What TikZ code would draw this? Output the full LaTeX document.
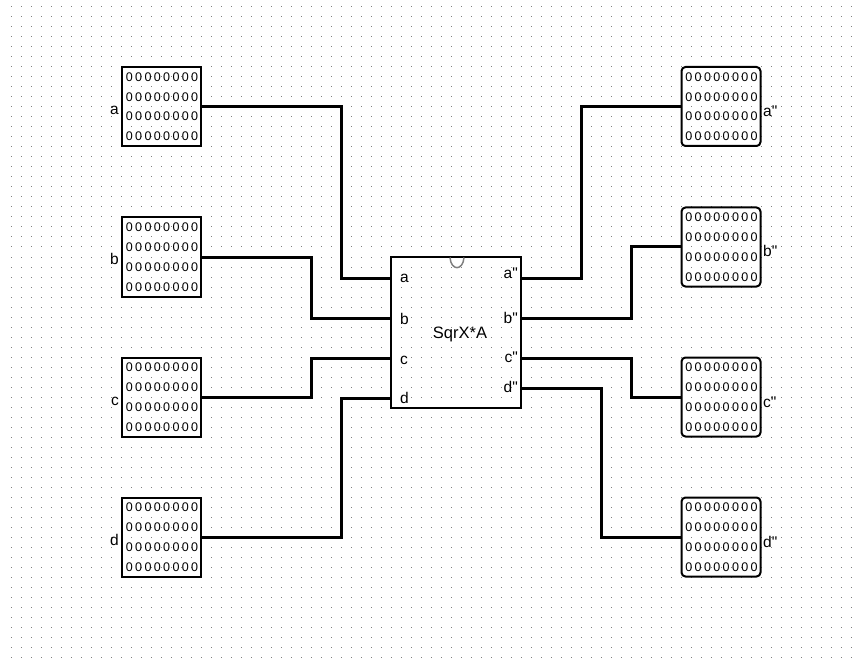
\documentclass[tikz,border=0pt]{standalone}
\usepackage{fontspec}
\setmainfont{Liberation Sans}
\newfontfamily\labf{Liberation Sans}
\begin{document}
\begin{tikzpicture}[x=1pt,y=-1pt,
  wire/.style={line width=3pt},
  mem/.style={draw,line width=2pt,minimum width=79pt,minimum height=79pt,inner sep=0pt},
  memr/.style={mem,rounded corners=4pt},
  lbl/.style={font=\labf\fontsize{15.5}{15.5}\selectfont,inner sep=0pt},
  zrow/.style={font=\labf\fontsize{12.5}{12.5}\selectfont\addfontfeature{LetterSpace=19},inner sep=0pt}]
\useasboundingbox (0,0) rectangle (855,658);
\fill[white] (0,0) rectangle (855,658);
% grid dots
\foreach \i in {0,...,84}{\foreach \j in {0,...,65}{\fill[gray] (10*\i+10.5,10*\j+6.5) rectangle ++(1,1);}}
% chip
\node[draw,line width=2pt,minimum width=130pt,minimum height=151pt,inner sep=0pt] (chip) at (456,332) {};
\node[font=\labf\fontsize{16.5}{16.5}\selectfont,inner sep=0pt] (title) at (460,334) {SqrX*A};
\draw[gray,line width=1.5pt] (450,257.5) .. controls (451,271) and (463,271) .. (464,257.5);
% pins
\coordinate (pa) at (391,278); \coordinate (pb) at (391,318);
\coordinate (pc) at (391,358); \coordinate (pd) at (391,398);
\coordinate (qa) at (521,278); \coordinate (qb) at (521,318);
\coordinate (qc) at (521,358); \coordinate (qd) at (521,388);
\node[lbl,anchor=base west] (la) at (400,283) {a};
\node[lbl,anchor=base west] (lb) at (400,324) {b};
\node[lbl,anchor=base west] (lc) at (400,364) {c};
\node[lbl,anchor=base west] (ld) at (400,403) {d};
\node[lbl,anchor=base east] (ra) at (518,279) {a"};
\node[lbl,anchor=base east] (rb) at (518,323) {b"};
\node[lbl,anchor=base east] (rc) at (518,362) {c"};
\node[lbl,anchor=base east] (rd) at (518,392) {d"};
% memories
\foreach \n/\y/\t in {ma/106.5/a, mb/257/b, mc/397/c, md/537/d}{
  \node[mem] (\n) at (161.5,\y) {};
  \foreach \k in {0,1,2,3}{\node[zrow] (\n z\k) at (162,\y-29.5+19.8*\k) {00000000};}
  \node[lbl,anchor=base east] (\n l) at (119,\y+8) {\t};
}
\foreach \n/\y/\t in {na/106.5/a", nb/247/b", nc/397/c", nd/537/d"}{
  \node[memr] (\n) at (721,\y) {};
  \foreach \k in {0,1,2,3}{\node[zrow] (\n z\k) at (721.5,\y-29.5+19.8*\k) {00000000};}
  \node[lbl,anchor=base west] (\n l) at (763,\y+10) {\t};
}
% wires
\coordinate (x1) at (341,0); \coordinate (x2) at (311,0);
\coordinate (x3) at (581,0); \coordinate (x4) at (631,0); \coordinate (x5) at (601,0);
\draw[wire] (ma.east) -- (ma.east -| x1) |- (pa);
\draw[wire] (mb.east) -- (mb.east -| x2) |- (pb);
\draw[wire] (mc.east) -- (mc.east -| x2) |- (pc);
\draw[wire] (md.east) -- (md.east -| x1) |- (pd);
\draw[wire] (qa) -- (qa -| x3) |- (na.west);
\draw[wire] (qb) -- (qb -| x4) |- (nb.west);
\draw[wire] (qc) -- (qc -| x4) |- (nc.west);
\draw[wire] (qd) -- (qd -| x5) |- (nd.west);
\end{tikzpicture}
\end{document}
